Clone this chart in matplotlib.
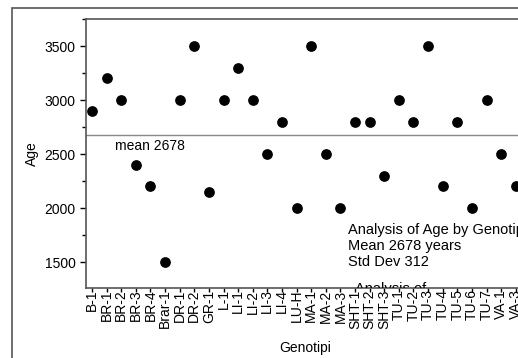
import matplotlib
matplotlib.use("Agg")
import matplotlib.pyplot as plt
from matplotlib.patches import Rectangle
from matplotlib.ticker import MultipleLocator

plt.rcParams["font.family"] = ["Liberation Sans", "DejaVu Sans"]

genotipi = ["B-1", "BR-1", "BR-2", "BR-3", "BR-4", "Brar-1", "DR-1", "DR-2",
            "GR-1", "L-1", "LI-1", "LI-2", "LI-3", "LI-4", "LU-H", "MA-1",
            "MA-2", "MA-3", "SHT-1", "SHT-2", "SHT-3", "TU-1", "TU-2", "TU-3",
            "TU-4", "TU-5", "TU-6", "TU-7", "VA-1", "VA-3"]
age = [2900, 3200, 3000, 2400, 2200, 1500, 3000, 3500,
       2150, 3000, 3300, 3000, 2500, 2800, 2000, 3500,
       2500, 2000, 2800, 2800, 2300, 3000, 2800, 3500,
       2200, 2800, 2000, 3000, 2500, 2200]
mean_age = 2678
std_age = 312

W, H = 518, 358
fig = plt.figure(figsize=(W / 100, H / 100), dpi=100)

# outer frame, runs off the right and bottom edge
fig.patches.append(Rectangle((12 / W, -0.1), 1.2, 1 - 8 / H + 0.1,
                             transform=fig.transFigure, fill=False,
                             edgecolor="#555555", linewidth=1.2))

ax_left, ax_right = 86, 545
ax_top, ax_bot = 19, 288
ax = fig.add_axes([ax_left / W, 1 - ax_bot / H,
                   (ax_right - ax_left) / W, (ax_bot - ax_top) / H])

x = list(range(len(genotipi)))
ax.scatter(x, age, s=45, color="black", zorder=3)
ax.axhline(mean_age, color="#888888", linewidth=1)
ax.text(1.55, 2640, f"mean {mean_age}", fontsize=10, va="top", ha="left")

ax.text(17.5, 1865,
        f"Analysis of Age by Genotipi\nMean {mean_age} years\nStd Dev {std_age}",
        fontsize=10.5, va="top", ha="left", linespacing=1.18, clip_on=True)
# second note, cut off by the x axis
ax.text(18.0, 1215, "Analysis of", fontsize=10.5, va="baseline", ha="left",
        clip_on=True)

ax.set_xlim(-0.41, 31)
ax.set_ylim(1260, 3750)
ax.set_xticks(x)
ax.set_xticklabels(genotipi, rotation=90, fontsize=10)
ax.yaxis.set_major_locator(MultipleLocator(500))
ax.yaxis.set_minor_locator(MultipleLocator(250))
ax.tick_params(axis="y", labelsize=10, length=4, width=1, direction="out")
ax.tick_params(axis="y", which="minor", length=3, width=1)
ax.tick_params(axis="x", length=3, width=1, pad=-2)

for side in ["left", "bottom", "top"]:
    ax.spines[side].set_color("#555555")
    ax.spines[side].set_linewidth(1.2)
ax.spines["right"].set_visible(False)

ax.set_ylabel("Age", fontsize=10, labelpad=4)
fig.text(305 / W, 1 - 348 / H, "Genotipi", fontsize=10, ha="center", va="center")

fig.savefig("out.png", dpi=100)
